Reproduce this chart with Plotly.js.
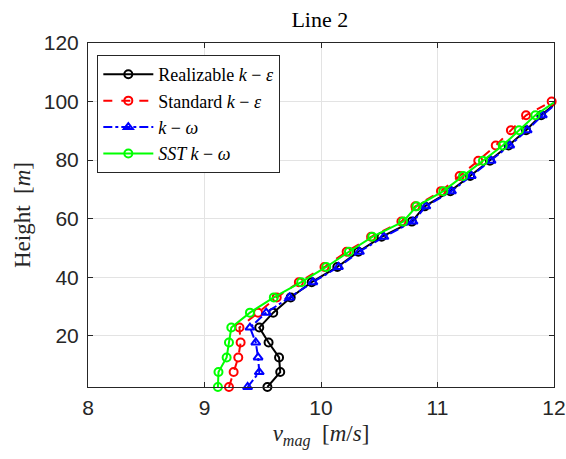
<!DOCTYPE html>
<html>
<head>
<meta charset="utf-8">
<script src="https://cdn.plot.ly/plotly-3.0.1.min.js"></script>
<style>html,body{margin:0;padding:0;background:#fff;}#chart{width:566px;height:459px;}</style>
</head>
<body>
<div id="chart"></div>
<script>
// Heights [m]
const heights = [2.5, 7.6, 12.6, 17.7, 22.8, 27.9, 33.1, 38.3, 43.5, 48.7, 53.8, 59.0, 64.2, 69.4, 74.6, 79.8, 85.0, 90.2, 95.3, 100.0];
// Velocity magnitude [m/s] for each model
const realizableKE = [9.54, 9.65, 9.64, 9.55, 9.47, 9.59, 9.74, 9.92, 10.14, 10.32, 10.52, 10.78, 10.89, 11.11, 11.28, 11.45, 11.61, 11.76, 11.89, 12.03];
const standardKE   = [9.21, 9.25, 9.29, 9.31, 9.30, 9.46, 9.62, 9.81, 10.03, 10.22, 10.43, 10.69, 10.81, 11.03, 11.19, 11.35, 11.50, 11.63, 11.76, 11.98];
const kOmega       = [9.37, 9.47, 9.46, 9.44, 9.39, 9.53, 9.73, 9.93, 10.15, 10.33, 10.54, 10.79, 10.90, 11.12, 11.29, 11.46, 11.62, 11.77, 11.90, 12.04];
const sstKOmega    = [9.115, 9.12, 9.19, 9.21, 9.23, 9.39, 9.595, 9.83, 10.045, 10.24, 10.44, 10.705, 10.82, 11.05, 11.22, 11.39, 11.56, 11.70, 11.84, 12.01];
const seriesNames = ["Realizable <i>k</i> \u2212 <i>\u03b5</i>", "Standard <i>k</i> \u2212 <i>\u03b5</i>", "<i>k</i> \u2212 <i>\u03c9</i>", "<i>SST k</i> \u2212 <i>\u03c9</i>"];
const xTicks = [8, 9, 10, 11, 12];
const yTicks = [20, 40, 60, 80, 100, 120];

const mk = (x, name, color, dash, symbol, size, grp) => ({
  x: x, y: heights, name: name, type: 'scatter', mode: 'lines+markers', legendgroup: grp,
  cliponaxis: false,
  line: {color: color, width: 2, dash: dash},
  marker: {symbol: symbol, size: size, color: color, line: {color: color, width: 2}}
});

const data = [
  mk(realizableKE, seriesNames[0], '#000000', 'solid', 'circle-open', 8, 'a'),
  mk(standardKE, seriesNames[1], '#ff0000', 'dash', 'circle-open', 8, 'b'),
  mk(kOmega, seriesNames[2], '#0000ff', 'dashdot', 'triangle-up-open', 8, 'c'),
  mk(sstKOmega, seriesNames[3], '#00ff00', 'solid', 'circle-open', 8, 'd')
];

const axisCommon = {
  showline: true, mirror: 'ticks', linecolor: '#262626', linewidth: 1,
  ticks: 'inside', ticklen: 5, tickcolor: '#262626',
  showgrid: true, gridcolor: '#e3e3e3', gridwidth: 1, zeroline: false,
  tickfont: {family: 'Liberation Sans, Arial, sans-serif', size: 21, color: '#262626'}
};

const layout = {
  width: 566, height: 459,
  margin: {l: 88, r: 12, t: 43, b: 72},
  paper_bgcolor: '#ffffff', plot_bgcolor: '#ffffff',
  title: {text: 'Line 2', font: {family: 'Liberation Serif, DejaVu Serif, serif', size: 22, color: '#000'}, x: 0.565, xanchor: 'center', y: 0.958, yanchor: 'middle'},
  xaxis: Object.assign({}, axisCommon, {
    range: [8, 12], tickvals: xTicks, ticktext: xTicks.map(String), ticklabelstandoff: 2,
    title: {text: '<i>v</i><sub><i>mag</i></sub>  [<i>m</i>/<i>s</i>]', font: {family: 'Liberation Serif, DejaVu Serif, serif', size: 23, color: '#262626'}, standoff: 6}
  }),
  yaxis: Object.assign({}, axisCommon, {
    range: [2.5, 120], tickvals: yTicks, ticktext: yTicks.map(String), ticklabelstandoff: 4,
    title: {text: 'Height  [<i>m</i>]', font: {family: 'Liberation Serif, DejaVu Serif, serif', size: 23, color: '#262626'}, standoff: 6}
  }),
  legend: {
    x: 0.02, y: 0.965, xanchor: 'left', yanchor: 'top',
    bgcolor: '#ffffff', bordercolor: '#262626', borderwidth: 1,
    font: {family: 'Liberation Serif, DejaVu Serif, serif', size: 18, color: '#000'},
    tracegroupgap: 0, itemwidth: 50
  },
  showlegend: true
};

Plotly.newPlot('chart', data, layout, {displayModeBar: false, staticPlot: true});
</script>
</body>
</html>
